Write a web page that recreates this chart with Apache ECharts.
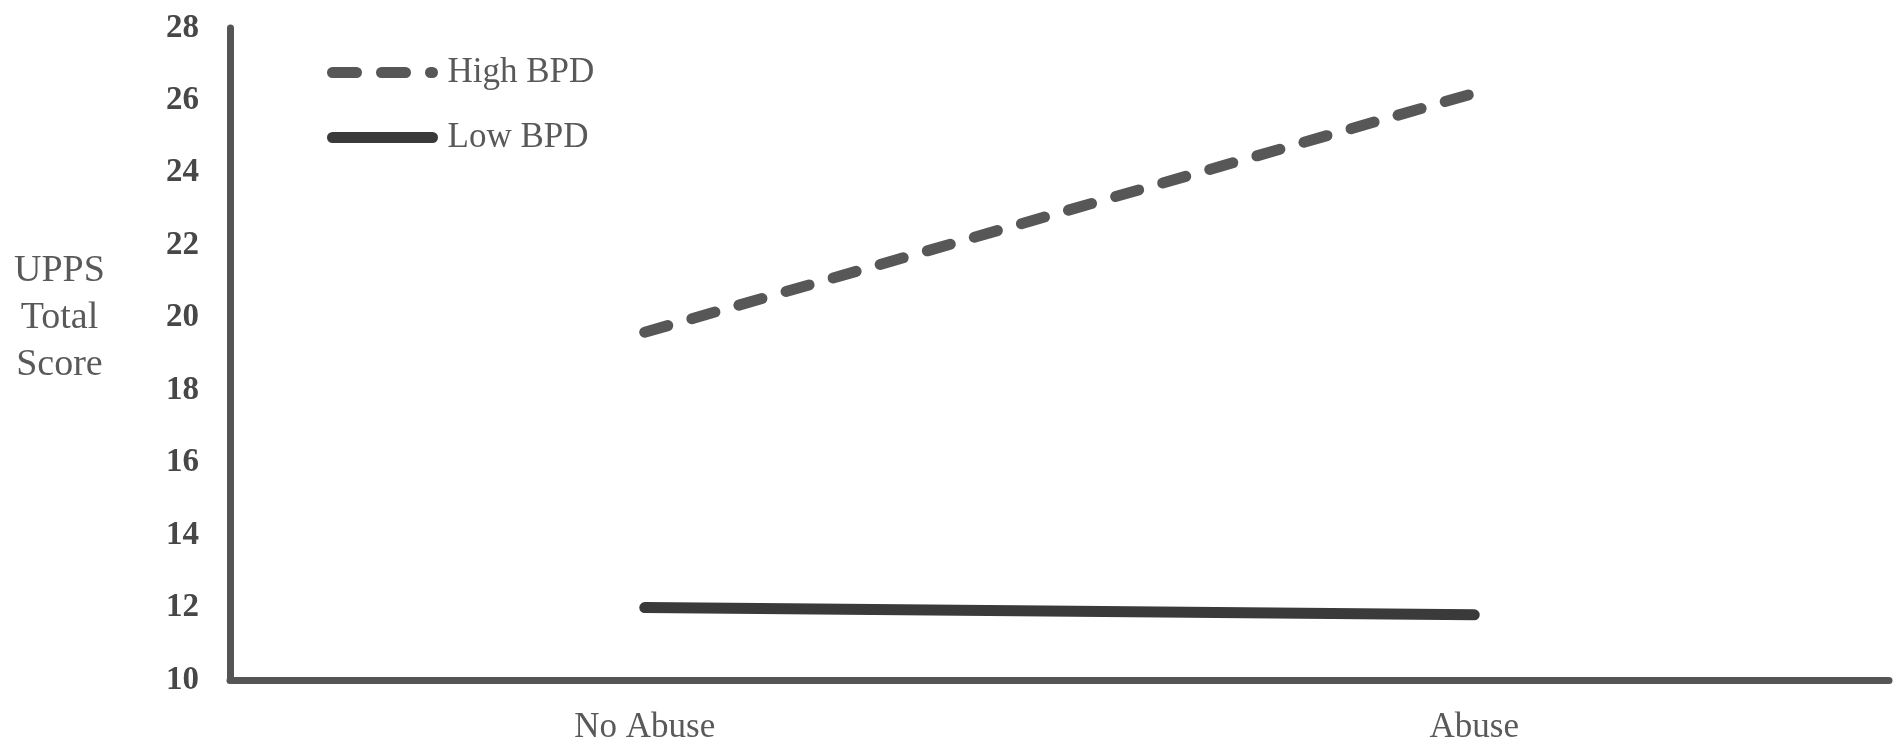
<!DOCTYPE html>
<html>
<head>
<meta charset="utf-8">
<script src="https://cdn.jsdelivr.net/npm/echarts@6/dist/echarts.min.js"></script>
<style>
html,body{margin:0;padding:0;background:#fff;}
#chart{width:1902px;height:751px;}
</style>
</head>
<body>
<div id="chart"></div>
<script>
const categories = ['No Abuse', 'Abuse'];
const highBPD = [19.6, 26.2];
const lowBPD = [12.0, 11.8];
const seriesNames = ['High BPD', 'Low BPD'];
const yTicks = { min: 10, max: 28, interval: 2 };
const yTitleLines = ['UPPS', 'Total', 'Score'];

const chart = echarts.init(document.getElementById('chart'));
const serif = '"Liberation Serif", "Times New Roman", serif';
chart.setOption({
  animation: false,
  backgroundColor: '#ffffff',
  grid: { left: 230, right: 13, top: 28, bottom: 71, containLabel: false },
  legend: {
    orient: 'vertical',
    left: 322,
    top: 50,
    itemWidth: 100,
    itemHeight: 14,
    itemGap: 30,
    itemStyle: { opacity: 0 },
    data: [
      { name: seriesNames[0], lineStyle: { width: 11, type: [24, 25], cap: 'round', color: '#575757' } },
      { name: seriesNames[1], lineStyle: { width: 11, type: 'solid', cap: 'round', color: '#3a3a3a' } }
    ],
    textStyle: { fontFamily: serif, fontSize: 35, color: '#595959', padding: [0, 0, 0, 10] }
  },
  xAxis: {
    type: 'category',
    data: categories,
    boundaryGap: true,
    axisLine: { lineStyle: { color: '#555555', width: 7 } },
    axisTick: { show: false },
    axisLabel: { fontFamily: serif, fontSize: 35, color: '#595959', margin: 30 }
  },
  yAxis: {
    type: 'value',
    min: yTicks.min,
    max: yTicks.max,
    interval: yTicks.interval,
    axisLine: { show: true, lineStyle: { color: '#555555', width: 7 } },
    axisTick: { show: false },
    splitLine: { show: false },
    axisLabel: { fontFamily: serif, fontSize: 33, fontWeight: 'bold', color: '#474747', margin: 31 }
  },
  graphic: [{
    type: 'text',
    left: 14,
    top: 248,
    style: {
      text: yTitleLines.join('\n'),
      font: '38px ' + serif,
      fill: '#595959',
      textAlign: 'center',
      lineHeight: 47,
      x: 0
    }
  }],
  series: [
    {
      name: seriesNames[0],
      type: 'line',
      data: highBPD,
      symbol: 'none',
      lineStyle: { color: '#575757', width: 11, type: [24, 25], cap: 'round' },
      itemStyle: { color: '#575757' }
    },
    {
      name: seriesNames[1],
      type: 'line',
      data: lowBPD,
      symbol: 'none',
      lineStyle: { color: '#3a3a3a', width: 11, cap: 'round' },
      itemStyle: { color: '#3a3a3a' }
    }
  ]
});
</script>
</body>
</html>
